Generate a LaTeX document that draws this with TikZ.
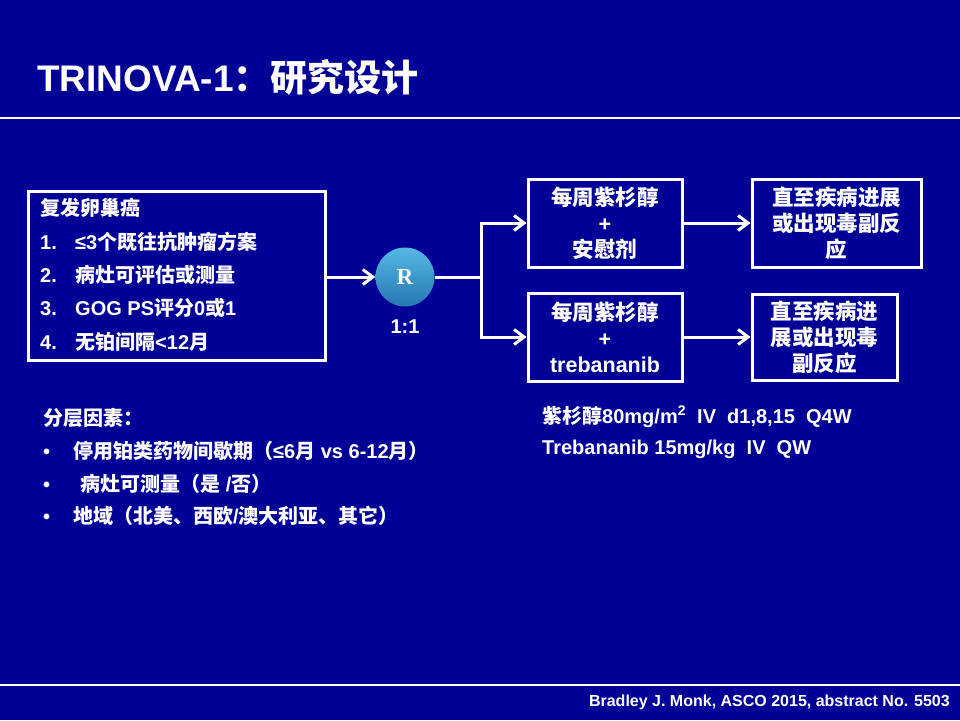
\documentclass[tikz,border=0pt]{standalone}
\usepackage{fontspec}
\setmainfont{Liberation Sans}
\newfontfamily\cjkfont{Noto Sans CJK SC}
\newfontfamily\serifR{Liberation Serif}
\usetikzlibrary{arrows.meta}
\newcommand\zh[1]{{\cjkfont #1}}
\definecolor{bgblue}{RGB}{0,0,150}
\definecolor{ballTop}{RGB}{85,185,228}
\definecolor{ballBot}{RGB}{38,118,178}
\begin{document}
\begin{tikzpicture}[x=1pt,y=-1pt,
  every node/.style={text=white, inner sep=0pt, font=\bfseries},
  frame/.style={draw=white, line width=3pt},
  flowbox/.style={frame, align=center, font=\bfseries\fontsize{21.5}{26}\selectfont},
  bodytxt/.style={anchor=west, font=\bfseries\fontsize{20}{24}\selectfont, text height=15pt, text depth=4pt},
  wline/.style={draw=white, line width=3pt},
  arr/.style={wline, -{Straight Barb[length=10pt,width=15pt,line width=3pt]}},
  rule/.style={draw=white, line width=1.5pt}
]
\fill[bgblue] (0,0) rectangle (960,720);
\useasboundingbox (0,0) rectangle (960,720);

% title
\node[anchor=west, font=\bfseries\fontsize{37}{40}\selectfont] (title) at (37,77) {TRINOVA-1\zh{：研究设计}};
\draw[rule] (0,118) -- (960,118);

% left eligibility box
\node[frame, minimum width=297pt, minimum height=169pt] (elig) at (176.5,275.5) {};
\node[bodytxt] (e0) at (40,210) {\zh{复发卵巢癌}};
\node[bodytxt] (n1) at (40,244) {1.};
\node[bodytxt] (t1) at (75,244) {≤3\zh{个既往抗肿瘤方案}};
\node[bodytxt] (n2) at (40,277) {2.};
\node[bodytxt] (t2) at (75,277) {\zh{病灶可评估或测量}};
\node[bodytxt] (n3) at (40,310) {3.};
\node[bodytxt] (t3) at (75,310) {GOG PS\zh{评分}0\zh{或}1};
\node[bodytxt] (n4) at (40,344) {4.};
\node[bodytxt] (t4) at (75,344) {\zh{无铂间隔}<12\zh{月}};

% randomisation
\node[circle, minimum size=59pt, top color=ballTop, bottom color=ballBot, draw=none] (R) at (405,277) {\serifR\bfseries\fontsize{23}{23}\selectfont R};
\node[font=\bfseries\fontsize{20}{24}\selectfont] (ratio) at (405,327) {1:1};
\coordinate (J) at (481,277);

% arm boxes
\node[flowbox, minimum width=154pt, minimum height=88pt] (A1) at (605,223) {\zh{每周紫杉醇}\\+\\\zh{安慰剂}};
\node[flowbox, minimum width=154pt, minimum height=88pt] (A2) at (605,337) {\zh{每周紫杉醇}\\+\\trebananib};
\node[flowbox, minimum width=169pt, minimum height=88pt] (B1) at (836.5,223) {\zh{直至疾病进展}\\\zh{或出现毒副反}\\\zh{应}};
\node[flowbox, minimum width=145pt, minimum height=86pt] (B2) at (824.5,337) {\zh{直至疾病进}\\\zh{展或出现毒}\\\zh{副反应}};

% connectors
\draw[arr] (elig.east |- R.west) -- (R.west);
\draw[wline] (R.east) -- (J);
\draw[arr] (J) |- (A1.west);
\draw[arr] (J) |- (A2.west);
\draw[arr] (A1.east) -- (B1.west);
\draw[arr] (A2.east) -- (B2.west);

% stratification factors
\node[bodytxt] (s0) at (43,420) {\zh{分层因素：}};
\node[bodytxt] (b1) at (43,453) {•};
\node[bodytxt] (s1) at (73,453) {\zh{停用铂类药物间歇期（}≤6\zh{月} vs 6-12\zh{月）}};
\node[bodytxt] (b2) at (43,486) {•};
\node[bodytxt] (s2) at (80,486) {\zh{病灶可测量（是} /\zh{否）}};
\node[bodytxt] (b3) at (43,518) {•};
\node[bodytxt] (s3) at (73,518) {\zh{地域（北美、西欧}/\zh{澳大利亚、其它）}};

% dosing
\node[bodytxt] (d1) at (542,418) {\zh{紫杉醇}80mg/m\textsuperscript{2}\ \ IV\ \ d1,8,15\ \ Q4W};
\node[bodytxt] (d2) at (542,449) {Trebananib 15mg/kg\ \ IV\ \ QW};

% footer
\draw[rule] (0,685) -- (960,685);
\node[anchor=east, font=\bfseries\fontsize{16}{18}\selectfont] (ref) at (950,702) {Bradley J. Monk, ASCO 2015, abstract No. 5503};
\end{tikzpicture}
\end{document}
